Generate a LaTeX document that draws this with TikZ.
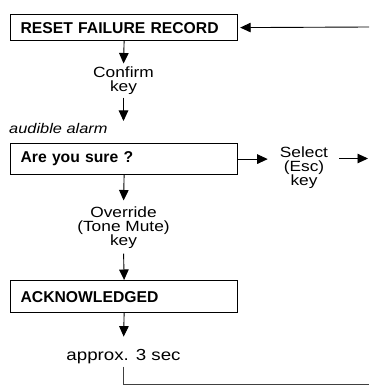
\documentclass[tikz,border=0pt]{standalone}
\usepackage{fontspec}
\setmainfont{Liberation Sans}
\newfontfamily\widefont[FakeStretch=1.17]{Liberation Sans}
\usetikzlibrary{arrows.meta}
\begin{document}
\begin{tikzpicture}[x=1pt,y=-1pt,
  box/.style={draw, line width=1.2pt, anchor=north west,
    font=\fontsize{15.7}{17}\selectfont\bfseries,
    inner xsep=10pt, inner ysep=0pt, text width=207pt, align=left},
  lab/.style={font=\widefont\fontsize{14.8}{14}\selectfont, align=center, inner sep=0pt},
  conn/.style={line width=0.9pt, -{Triangle[length=10.5pt,width=9.5pt]}},
  ret/.style={line width=0.7pt, draw=black!75}
]
\useasboundingbox (0,0) rectangle (369,385);

% boxes
\node[box, minimum height=26pt] (box1) at (10,14) {RESET FAILURE RECORD};
\node[box, minimum height=31pt] (box2) at (10,143) {Are you sure ?};
\node[box, minimum height=32pt] (box3) at (10,280) {ACKNOWLEDGED};

% labels
\node[lab, anchor=north] (confirm) at (123.5,66.5) {Confirm\\key};
\node[lab, anchor=base west, font=\widefont\fontsize{14}{16}\selectfont\itshape] (alarm) at (9,133) {audible alarm};
\node[lab, anchor=north] (override) at (123.5,206.5) {Override\\(Tone Mute)\\key};
\node[lab, anchor=north] (select) at (304,146.5) {Select\\(Esc)\\key};
\node[lab, anchor=base, font=\widefont\fontsize{16}{18}\selectfont] (approx) at (123.5,360) {approx. 3 sec};

% free ends
\coordinate (c1) at (123.5,121);
\coordinate (r1) at (369,27);
\coordinate (r2) at (368,158.5);
\coordinate (r3) at (369,384);

% connectors
\draw[conn, shorten >=3pt] (box1.south) -- (confirm.north);
\draw[conn, shorten <=3pt] (confirm.south) -- (c1);
\draw[conn, shorten >=6pt] (box2.south) -- (override.north);
\draw[conn, shorten <=5pt] (override.south) -- (box3.north);
\draw[conn, shorten >=12pt] (box3.south) -- (approx.north);
\draw[conn, shorten >=12pt] (box2.east) -- (box2.east -| select.west);
\draw[conn, shorten <=11pt] (select.east |- r2) -- (r2);
\draw[conn, shorten >=2pt] (r1) -- (box1.east);
\draw[ret, shorten <=3pt] (approx.south) |- (r3);
\end{tikzpicture}
\end{document}
